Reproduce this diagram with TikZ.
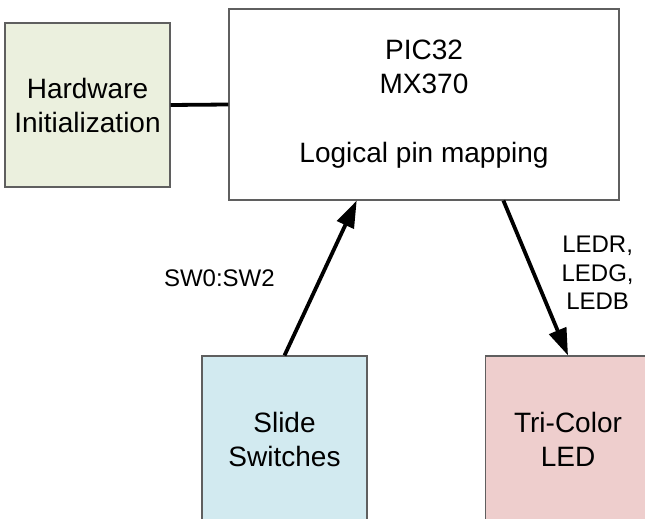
\documentclass[tikz,border=0pt]{standalone}
\usepackage{fontspec}
\setmainfont{Liberation Sans}
\usepackage{tikz}
\usetikzlibrary{arrows.meta, positioning, calc}
\definecolor{hwfill}{RGB}{235,240,222}
\definecolor{swfill}{RGB}{210,234,240}
\definecolor{ledfill}{RGB}{238,206,205}
\definecolor{edge}{RGB}{95,95,95}
\tikzset{
    block/.style={rectangle, draw=edge, line width=1.1bp, align=center, inner sep=0pt,
        font=\fontsize{28bp}{34bp}\selectfont},
    link/.style={line width=3.8bp, black},
    flow/.style={link, -{Triangle[length=27bp, width=18bp]}},
    lbl/.style={inner sep=0pt, align=center, font=\fontsize{24bp}{28.5bp}\selectfont}
}
\begin{document}
\begin{tikzpicture}[x=1bp, y=-1bp]
      \useasboundingbox (0,0) rectangle (645,519);
      \node (hw) [block, fill=hwfill, minimum width=165bp, minimum height=164bp] at (87.5,105) {Hardware\\Initialization};
      \node (pic) [block, fill=white, minimum width=390bp, minimum height=191bp] at (424,104.5) {PIC32\\MX370\\[35bp]Logical pin mapping};
      \node (slide) [block, fill=swfill, minimum width=165bp, minimum height=166bp] at (284.5,439) {Slide\\Switches};
      \node (led) [block, fill=ledfill, minimum width=165bp, minimum height=166bp] at (568,439) {Tri-Color\\LED};

      \draw [link] (hw.east) -- (pic.west);
      \draw [flow] (slide.north) -- node[left=44bp, lbl] (swlbl) {SW0:SW2} ($(pic.south west)!0.328!(pic.south east)$);
      \draw [flow] ($(pic.south west)!0.703!(pic.south east)$) -- node[right=24bp, yshift=5bp, lbl] (ledlbl) {LEDR,\\LEDG,\\LEDB} (led.north);
    \end{tikzpicture}
\end{document}
